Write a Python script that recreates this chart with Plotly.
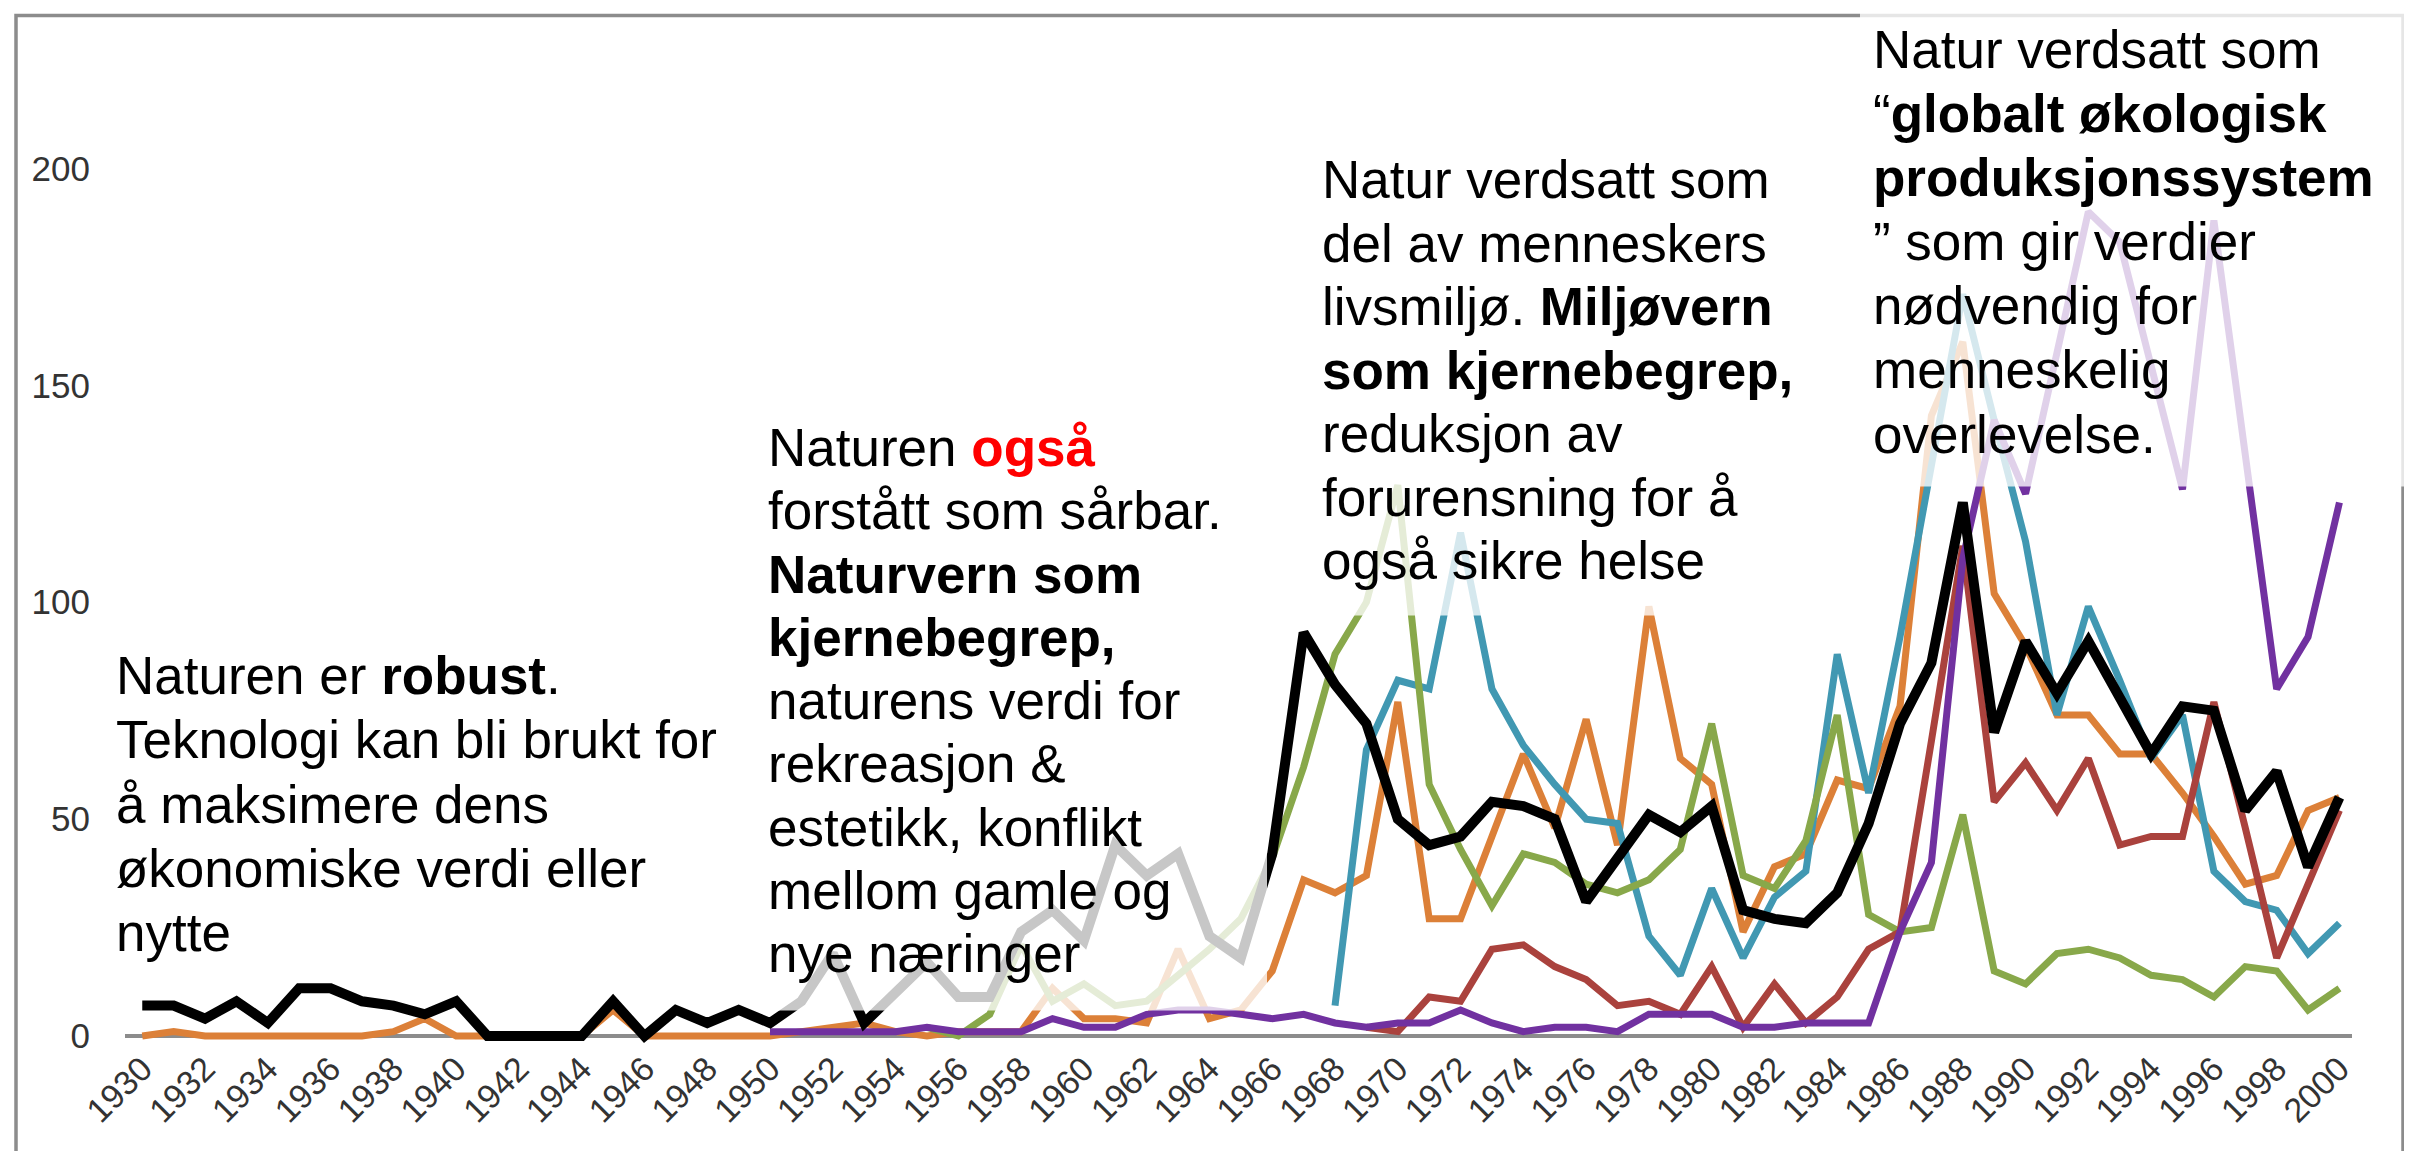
import plotly.graph_objects as go

years = list(range(1930, 2001))

black = [7, 7, 4, 8, 3, 11, 11, 8, 7, 5, 8, 0, 0, 0, 0, 8, 0, 6, 3, 6,
         3, 8, 19, 3, 10, 17, 9, 9, 24, 29, 22, 44, 37, 42, 23, 18, 42, 93, 81, 72,
         50, 44, 46, 54, 53, 50, 31, 41, 51, 47, 53, 29, 27, 26, 33, 49, 72, 86, 123, 70,
         91, 79, 91, 78, 65, 76, 75, 52, 61, 39, 55]
orange = [0, 1, 0, 0, 0, 0, 0, 0, 1, 4, 0, 0, 0, 0, 0, 6, 0, 0, 0, 0,
          0, 1, 2, 3, 1, 0, 1, 1, 1, 11, 4, 4, 3, 20, 4, 6, 15, 36, 33, 37,
          77, 27, 27, 46, 65, 48, 73, 44, 99, 64, 58, 24, 39, 42, 59, 57, 76, 143, 160, 102,
          90, 74, 74, 65, 65, 56, 46, 35, 37, 52, 55]
green = [2, 0, 5, 21, 8, 12, 7, 8, 14, 20, 27, 41, 62, 88, 100,
         127, 58, 43, 30, 42, 40, 35, 33, 36, 43, 72, 37, 34, 45, 74, 28, 24, 25, 51, 15,
         12, 19, 20, 18, 14, 13, 9, 16, 15, 6, 11]          # 1955-2000
teal = [7, 66, 82, 80, 116, 80, 67, 58, 50, 49, 23, 14, 34, 18, 32, 38, 88, 56, 92, 131,
        171, 142, 114, 74, 99, 82, 64, 74, 38, 31, 29, 19, 26]  # 1968-2000
red = [2, 1, 9, 8, 20, 21, 16, 13, 7, 8, 5, 16, 2, 12, 3, 9, 20, 24, 68, 113,
       54, 63, 52, 64, 44, 46, 46, 77, 48, 18, 35, 52]     # 1969-2000
purple = [1, 1, 1, 1, 1, 2, 1, 1, 1, 4, 2, 2, 5, 6, 6, 5, 4, 5, 3, 2,
          3, 3, 6, 3, 1, 2, 2, 1, 5, 5, 5, 2, 2, 3, 3, 3, 24, 40, 110, 142,
          125, 158, 190, 183, 155, 126, 188, 135, 80, 92, 123]  # 1950-2000

x_tick_vals = list(range(1930, 2001, 2))
x_tick_text = [str(v) for v in x_tick_vals]
y_tick_vals = [0, 50, 100, 150, 200]

box1_lines = ["Naturen er <b>robust</b>.", "Teknologi kan bli brukt for", "å maksimere dens",
              "økonomiske verdi eller", "nytte"]
box2_lines = ["Naturen <b><span style='color:#FF0000'>også</span></b>", "forstått som sårbar.",
              "<b>Naturvern som</b>", "<b>kjernebegrep,</b>", "naturens verdi for", "rekreasjon &amp;",
              "estetikk, konflikt", "mellom gamle og", "nye næringer"]
box3_lines = ["Natur verdsatt som", "del av menneskers", "livsmiljø. <b>Miljøvern</b>",
              "<b>som kjernebegrep,</b>", "reduksjon av", "forurensning for å", "også sikre helse"]
box4_lines = ["Natur verdsatt som", "“<b>globalt økologisk</b>", "<b>produksjonssystem</b>",
              "” som gir verdier", "nødvendig for", "menneskelig", "overlevelse."]

series = [
    ("orange", orange, "#DC8038", 7),
    ("teal", teal, "#4198B2", 7),
    ("green", green, "#88A84A", 7),
    ("red", red, "#AA423D", 7),
    ("purple", purple, "#7131A0", 7),
    ("black", black, "#000000", 10),
]

W, H = 2412, 1151
L, R = 117, 2344
YMIN, YMAX = -3, 225
PX_PER = 4.338
ZERO_PX = 1027.6
TOP = ZERO_PX - YMAX * PX_PER
BOT = ZERO_PX - YMIN * PX_PER


def px_x(p):
    return (p - L) / (R - L)


def px_y(p):
    return (BOT - p) / (BOT - TOP)


fig = go.Figure()
for name, vals, col, w in series:
    fig.add_trace(go.Scatter(x=years[-len(vals):], y=vals, mode="lines", name=name,
                             line=dict(color=col, width=w), hoverinfo="skip"))

fade = "rgba(255,255,255,0.78)"
boxes = [(760, 405, 1259, 1002), (1310, 130, 1835, 607), (1852, -10, 2430, 478)]
shapes = [dict(type="rect", xref="paper", yref="paper",
               x0=px_x(8), x1=px_x(2395), y0=px_y(7), y1=px_y(1250),
               line=dict(color="#8C8C8C", width=3.5), fillcolor="rgba(0,0,0,0)", layer="below")]
for x0, y0, x1, y1 in boxes:
    shapes.append(dict(type="rect", xref="paper", yref="paper",
                       x0=px_x(x0), x1=px_x(x1), y0=px_y(y1), y1=px_y(y0),
                       line=dict(width=0), fillcolor=fade, layer="above"))

FS = 53
txt_font = dict(family="Liberation Sans, Arial, sans-serif", size=FS, color="#000000")
# (left of text, centre of first line, line spacing) in pixels
blocks = [
    (117, 677, 64.4, box1_lines),
    (769, 449, 63.3, box2_lines),
    (1323, 181.5, 63.5, box3_lines),
    (1874, 51, 64.1, box4_lines),
]
annotations = []
for x, y0, sp, lines in blocks:
    for i, t in enumerate(lines):
        annotations.append(dict(xref="paper", yref="paper", x=px_x(x - 11), y=px_y(y0 + i * sp - 10),
                                text=t, showarrow=False, xanchor="left", yanchor="middle",
                                align="left", font=txt_font))

xtick_font = dict(family="Liberation Sans, Arial, sans-serif", size=34, color="#333333")
ytick_font = dict(family="Liberation Sans, Arial, sans-serif", size=35, color="#333333")

fig.update_layout(
    width=W, height=H,
    margin=dict(l=L, r=W - R, t=TOP, b=H - BOT, pad=0),
    paper_bgcolor="white", plot_bgcolor="white",
    showlegend=False,
    shapes=shapes, annotations=annotations,
    xaxis=dict(range=[1929.45, 2000.4], tickvals=x_tick_vals, ticktext=x_tick_text,
               tickangle=-45, showgrid=False, zeroline=False, showline=False,
               ticks="", tickfont=xtick_font, ticklabelstandoff=-8),
    yaxis=dict(range=[YMIN, YMAX], tickvals=y_tick_vals, showgrid=False,
               zeroline=True, zerolinecolor="#8C8C8C", zerolinewidth=3.5,
               showline=False, ticks="", tickfont=ytick_font, ticklabelstandoff=34),
)

fig.write_html("out.html")
